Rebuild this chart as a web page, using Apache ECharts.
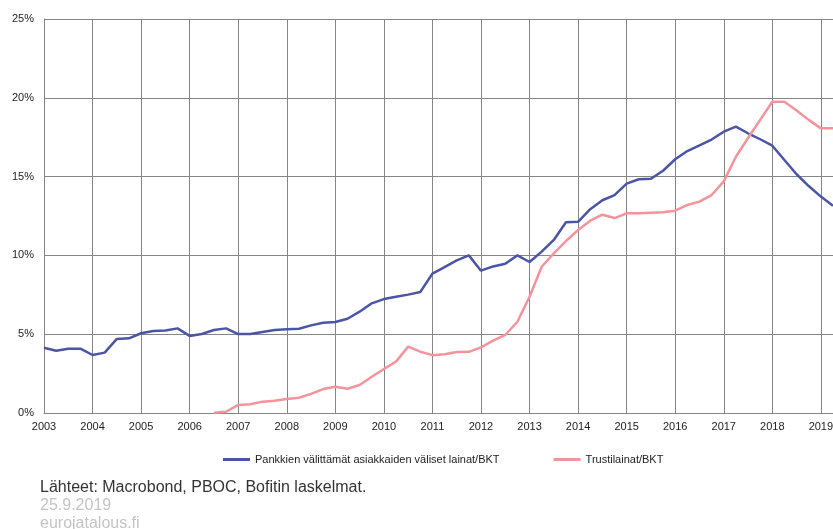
<!DOCTYPE html>
<html>
<head>
<meta charset="utf-8">
<script src="https://cdn.jsdelivr.net/npm/echarts@6/dist/echarts.min.js"></script>
<style>
  html, body { margin: 0; padding: 0; background: #fff; }
  #chart { width: 833px; height: 529px; }
</style>
</head>
<body>
<div id="chart"></div>
<script>
// quarterly observations, 2003Q1 .. 2019Q2
const years = [2003, 2004, 2005, 2006, 2007, 2008, 2009, 2010, 2011,
               2012, 2013, 2014, 2015, 2016, 2017, 2018, 2019]
const quarters = []
years.forEach(y => {
    for (let q = 1; q <= 4; q++) {
        if (y === 2019 && q > 2) break
        quarters.push(y + 'Q' + q)
    }
})

// Pankkien välittämät asiakkaiden väliset lainat / BKT (%)
const bankLoans = [
    4.14, 3.95, 4.08, 4.08, 3.68, 3.83, 4.70, 4.74,
    5.06, 5.20, 5.24, 5.37, 4.89, 5.01, 5.27, 5.37,
    5.01, 5.01, 5.14, 5.27, 5.31, 5.35, 5.56, 5.73,
    5.77, 5.98, 6.43, 6.96, 7.23, 7.38, 7.51, 7.68,
    8.84, 9.26, 9.68, 10.0, 9.03, 9.30, 9.47, 10.0,
    9.58, 10.24, 10.98, 12.10, 12.13, 12.93, 13.50, 13.83,
    14.55, 14.83, 14.86, 15.37, 16.10, 16.62, 16.98, 17.35,
    17.85, 18.17, 17.75, 17.37, 16.96, 16.05, 15.15, 14.40,
    13.73, 13.15
]

// Trustilainat / BKT (%), series starts 2006Q3
const trustLoans = [
    null, null, null, null, null, null, null, null,
    null, null, null, null, null, null, 0.02, 0.08,
    0.51, 0.55, 0.72, 0.78, 0.89, 0.97, 1.21, 1.52,
    1.67, 1.54, 1.78, 2.30, 2.79, 3.26, 4.21, 3.89,
    3.67, 3.73, 3.87, 3.88, 4.16, 4.59, 4.95, 5.79,
    7.38, 9.28, 10.13, 10.91, 11.61, 12.20, 12.58, 12.37,
    12.67, 12.67, 12.71, 12.74, 12.84, 13.20, 13.41, 13.83,
    14.70, 16.26, 17.45, 18.60, 19.75, 19.75, 19.20, 18.60,
    18.06, 18.06
]

const seriesNames = ['Pankkien välittämät asiakkaiden väliset lainat/BKT', 'Trustilainat/BKT']
const yTicks = [0, 5, 10, 15, 20, 25]

const font = 'Liberation Sans, Arial, sans-serif'
const gridColor = '#858585'
const isYearStart = (idx) => idx % 4 === 0

const chart = echarts.init(document.getElementById('chart'))

chart.setOption({
    animation: false,
    color: ['#4b55a5', '#f4939b'],
    grid: { left: 44, right: 0, top: 19, bottom: 116, outerBoundsMode: 'none', containLabel: false },
    xAxis: {
        type: 'category',
        data: quarters,
        boundaryGap: false,
        axisLine: { lineStyle: { color: gridColor, width: 1 } },
        axisTick: { show: false },
        axisLabel: {
            interval: (idx) => isYearStart(idx),
            formatter: (v) => v.slice(0, 4),
            color: '#222',
            fontFamily: font,
            fontSize: 11,
            margin: 8,
            hideOverlap: false
        },
        splitLine: {
            show: true,
            interval: (idx) => isYearStart(idx),
            lineStyle: { color: gridColor, width: 1 }
        }
    },
    yAxis: {
        type: 'value',
        min: yTicks[0],
        max: yTicks[yTicks.length - 1],
        interval: 5,
        axisLine: { show: true, lineStyle: { color: gridColor } },
        axisTick: { show: false },
        axisLabel: {
            formatter: '{value}%',
            color: '#222',
            fontFamily: font,
            fontSize: 11,
            margin: 10
        },
        splitLine: { lineStyle: { color: gridColor, width: 1 } }
    },
    legend: {
        left: 218,
        top: 449,
        itemWidth: 27,
        itemHeight: 3,
        itemGap: 54,
        icon: 'rect',
        textStyle: { color: '#222', fontFamily: font, fontSize: 11 },
        data: seriesNames
    },
    graphic: [
        {
            type: 'text', left: 40, top: 480,
            style: { text: 'Lähteet: Macrobond, PBOC, Bofitin laskelmat.', fill: '#333', font: '16px ' + font }
        },
        {
            type: 'text', left: 40, top: 498,
            style: { text: '25.9.2019', fill: '#c4c4c4', font: '16px ' + font }
        },
        {
            type: 'text', left: 40, top: 516,
            style: { text: 'eurojatalous.fi', fill: '#c4c4c4', font: '16px ' + font }
        }
    ],
    series: [
        {
            name: seriesNames[0],
            type: 'line',
            data: bankLoans,
            showSymbol: false,
            lineStyle: { width: 2.5 }
        },
        {
            name: seriesNames[1],
            type: 'line',
            data: trustLoans,
            showSymbol: false,
            connectNulls: false,
            lineStyle: { width: 2.5 }
        }
    ]
})
</script>
</body>
</html>
